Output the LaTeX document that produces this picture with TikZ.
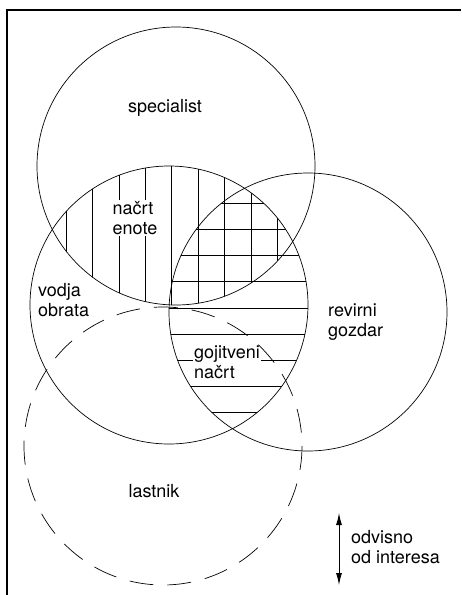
\documentclass[tikz,border=0pt]{standalone}
\usepackage{fontspec}
\setmainfont{TeX Gyre Heros}
\usetikzlibrary{arrows.meta}

\begin{document}
\begin{tikzpicture}[x=1pt,y=-1pt,>={Latex[length=12pt,width=6pt]},
 ring/.style={line width=0.7pt},
 owner/.style={line width=0.7pt,dash pattern=on 24pt off 14pt},
 hatch/.style={line width=0.6pt},
 lbl/.style={font=\fontsize{18}{20}\selectfont,align=left,inner sep=1pt},
 cut/.style={lbl,fill=white}]
\useasboundingbox (0,0) rectangle (461,595);
\coordinate (spec) at (176,166);
\coordinate (vodja) at (169,305);
\coordinate (revir) at (308,312);
\coordinate (owner) at (163,446);
\begin{scope}
 \clip (spec) circle (139);
 \clip (vodja) circle (139);
 \foreach \x in {0,...,8} \draw[hatch] (66+26.4*\x,150) -- (66+26.4*\x,330);
\end{scope}
\begin{scope}
 \clip (vodja) circle (139);
 \clip (revir) circle (139);
 \foreach \y in {0,...,8} \draw[hatch] (160,203+26.2*\y) -- (320,203+26.2*\y);
\end{scope}
\node[lbl] (speclbl) at (165,108) {specialist};
\node[cut] (plan) at (135,218) {načrt\\enote};
\node[lbl,anchor=west] (vodjalbl) at (37,300) {vodja\\obrata};
\node[lbl,anchor=west] (revirlbl) at (327,322) {revirni\\gozdar};
\node[cut,anchor=west] (tend) at (193,362) {gojitveni\\načrt};
\node[lbl] (ownerlbl) at (154,491) {lastnik};
\node[lbl,anchor=west] (interest) at (350,547) {odvisno\\od interesa};
\draw[ring] (spec) circle (139);
\draw[ring] (vodja) circle (139);
\draw[ring] (revir) circle (139);
\draw[owner] (owner) circle (139);
\coordinate (hi) at (339,513);
\coordinate (lo) at (339,585);
\draw[<->,line width=0.9pt] (hi) -- (lo);
\draw[line width=1.2pt] (461,10) -- (7,10) -- (7,595);
\end{tikzpicture}
\end{document}
